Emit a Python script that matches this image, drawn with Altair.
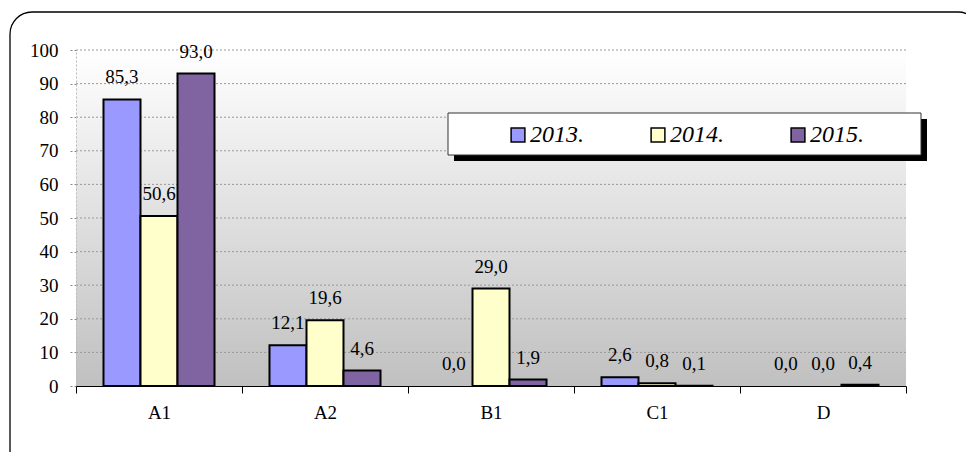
import altair as alt
import pandas as pd

categories = ["A1", "A2", "B1", "C1", "D"]
years = ["2013.", "2014.", "2015."]
v2013 = [85.3, 12.1, 0.0, 2.6, 0.0]
v2014 = [50.6, 19.6, 29.0, 0.8, 0.0]
v2015 = [93.0, 4.6, 1.9, 0.1, 0.4]
colors = ["#9999ff", "#ffffcc", "#8064a2"]
y_ticks = [0, 10, 20, 30, 40, 50, 60, 70, 80, 90, 100]

rows = []
for yr, vals in zip(years, [v2013, v2014, v2015]):
    for c, v in zip(categories, vals):
        rows.append({"cat": c, "year": yr, "value": v,
                     "label": f"{v:.1f}".replace(".", ",")})
df = pd.DataFrame(rows)
grid_df = pd.DataFrame({"value": y_ticks[1:]})

W, H = 830, 336
FONT = "Liberation Serif"

y_axis = alt.Axis(values=y_ticks, labelFont=FONT, labelFontSize=19,
                  labelColor="black", tickColor="#888888",
                  tickDash=[2, 2], tickSize=8, labelPadding=10,
                  labelOverlap=False,
                  domain=True, domainColor="#bbbbbb",
                  domainDash=[2, 2], grid=False, zindex=1)
y_scale = alt.Scale(domain=[0, 100], nice=False)


def y_enc():
    return alt.Y("value:Q", title=None, scale=y_scale, axis=y_axis)


x_enc = alt.X("cat:N", sort=categories, title=None,
              scale=alt.Scale(paddingInner=0, paddingOuter=0),
              axis=alt.Axis(labelAngle=0, labelFont=FONT, labelFontSize=19,
                            labelColor="black", domainColor="black",
                            domainWidth=1.2, tickColor="black", tickSize=7,
                            tickBand="extent", labelPadding=10, grid=False,
                            zindex=2))
xoff = alt.XOffset("year:N", sort=years,
                   scale=alt.Scale(paddingInner=0, paddingOuter=0.743))
color_enc = alt.Color("year:N", sort=years,
                      scale=alt.Scale(domain=years, range=colors),
                      legend=alt.Legend(title=None, orient="none",
                                        legendX=430, legendY=73,
                                        direction="horizontal", columns=3,
                                        symbolType="square", symbolSize=190,
                                        symbolStrokeColor="black",
                                        symbolStrokeWidth=1.5,
                                        symbolOpacity=1,
                                        labelFont=FONT, labelFontSize=24,
                                        labelFontStyle="italic",
                                        labelColor="black", labelOffset=0,
                                        columnPadding=62, padding=0))

frame_df = pd.DataFrame({"k": [0]})

border = alt.Chart(frame_df).mark_rect(
    fill="white", stroke="black", strokeWidth=1.3, cornerRadius=22
).encode(x=alt.value(-66), x2=alt.value(904), y=alt.value(-38), y2=alt.value(422))

plot_bg = alt.Chart(frame_df).mark_rect(
    fill=alt.Gradient(gradient="linear",
                      stops=[alt.GradientStop(color="#ffffff", offset=0),
                             alt.GradientStop(color="#c0c0c0", offset=1)],
                      x1=0, x2=0, y1=0, y2=1)
).encode(x=alt.value(0), x2=alt.value(W), y=alt.value(0), y2=alt.value(H))

grid = alt.Chart(grid_df).mark_rule(color="#999999", strokeDash=[2, 2],
                                    strokeWidth=1).encode(
    y=y_enc(), x=alt.value(0), x2=alt.value(W))

bars = alt.Chart(df).mark_bar(stroke="black", size=37).encode(
    x=x_enc, xOffset=xoff, y=y_enc(), color=color_enc,
    strokeWidth=alt.condition("datum.value > 0", alt.value(2), alt.value(0)),
)

labels = alt.Chart(df).mark_text(
    font=FONT, fontSize=19, color="black", baseline="alphabetic", dy=-16
).encode(x=x_enc, xOffset=xoff, y=y_enc(), text="label:N")

leg_shadow = alt.Chart(frame_df).mark_rect(fill="black").encode(
    x=alt.value(378), x2=alt.value(851), y=alt.value(69), y2=alt.value(111))
leg_box = alt.Chart(frame_df).mark_rect(fill="white", stroke="#333333",
                                        strokeWidth=1).encode(
    x=alt.value(372), x2=alt.value(845), y=alt.value(63), y2=alt.value(105))

chart = alt.layer(border, plot_bg, grid, bars, labels, leg_shadow, leg_box).properties(
    width=W, height=H,
    autosize=alt.AutoSizeParams(type="none"),
    padding={"left": 68, "top": 42, "right": 60, "bottom": 66},
    background="white",
).configure_view(stroke=None)

chart.save("out.html", embed_options={"renderer": "svg", "actions": False})
